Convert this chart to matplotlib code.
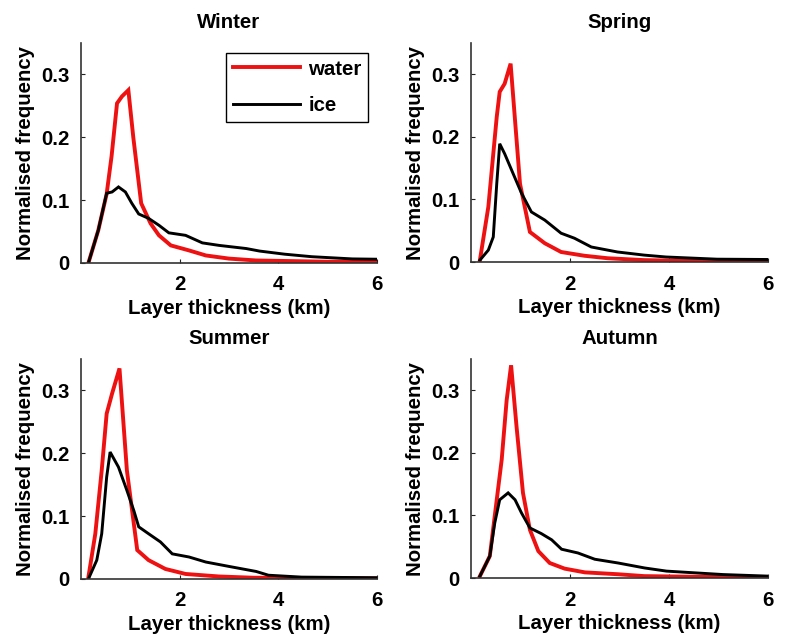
import matplotlib
matplotlib.use("Agg")
import matplotlib.pyplot as plt

# ---------------- data ----------------
seasons = ["Winter", "Spring", "Summer", "Autumn"]
series_labels = ["water", "ice"]

winter_water_x = [0.15, 0.35, 0.52, 0.62, 0.73, 0.83, 0.96, 1.06, 1.22, 1.41, 1.58, 1.82, 2.19, 2.53, 3.0, 3.55, 4.3, 5.0, 6.0]
winter_water_y = [0.0, 0.052, 0.110, 0.170, 0.254, 0.265, 0.275, 0.200, 0.095, 0.063, 0.044, 0.028, 0.020, 0.012, 0.007, 0.004, 0.003, 0.002, 0.002]
winter_ice_x = [0.15, 0.35, 0.52, 0.63, 0.76, 0.90, 1.03, 1.17, 1.37, 1.58, 1.78, 2.12, 2.46, 2.80, 3.35, 3.62, 4.13, 4.68, 5.5, 6.0]
winter_ice_y = [0.0, 0.052, 0.111, 0.113, 0.121, 0.113, 0.095, 0.078, 0.071, 0.060, 0.048, 0.044, 0.032, 0.028, 0.023, 0.019, 0.014, 0.010, 0.0065, 0.006]

spring_water_x = [0.18, 0.35, 0.52, 0.58, 0.68, 0.80, 0.99, 1.19, 1.49, 1.82, 2.29, 2.76, 3.5, 4.3, 5.0, 6.0]
spring_water_y = [0.003, 0.088, 0.232, 0.272, 0.285, 0.317, 0.125, 0.048, 0.030, 0.016, 0.010, 0.006, 0.003, 0.002, 0.0015, 0.001]
spring_ice_x = [0.18, 0.35, 0.45, 0.52, 0.58, 0.68, 0.82, 1.02, 1.22, 1.49, 1.82, 2.09, 2.43, 2.96, 3.5, 3.94, 4.97, 6.0]
spring_ice_y = [0.003, 0.019, 0.040, 0.125, 0.189, 0.173, 0.147, 0.110, 0.080, 0.067, 0.046, 0.038, 0.024, 0.016, 0.011, 0.008, 0.0045, 0.004]

summer_water_x = [0.15, 0.29, 0.42, 0.52, 0.63, 0.78, 0.93, 1.14, 1.37, 1.71, 2.12, 2.80, 3.5, 5.0, 6.0]
summer_water_y = [0.003, 0.072, 0.173, 0.263, 0.295, 0.335, 0.173, 0.046, 0.030, 0.016, 0.008, 0.004, 0.002, 0.0015, 0.001]
summer_ice_x = [0.15, 0.32, 0.42, 0.52, 0.59, 0.76, 0.93, 1.07, 1.17, 1.37, 1.61, 1.85, 2.19, 2.53, 3.0, 3.55, 3.8, 4.47, 6.0]
summer_ice_y = [0.0, 0.030, 0.072, 0.162, 0.202, 0.178, 0.141, 0.109, 0.083, 0.072, 0.059, 0.040, 0.035, 0.027, 0.020, 0.012, 0.006, 0.003, 0.002]

autumn_water_x = [0.18, 0.38, 0.52, 0.62, 0.72, 0.81, 0.92, 1.05, 1.19, 1.36, 1.59, 1.89, 2.30, 2.97, 3.5, 4.5, 6.0]
autumn_water_y = [0.003, 0.035, 0.125, 0.189, 0.284, 0.340, 0.242, 0.136, 0.077, 0.043, 0.024, 0.015, 0.009, 0.006, 0.003, 0.002, 0.001]
autumn_ice_x = [0.18, 0.38, 0.48, 0.58, 0.75, 0.89, 1.02, 1.19, 1.42, 1.63, 1.83, 2.16, 2.50, 2.97, 3.51, 3.95, 5.09, 6.0]
autumn_ice_y = [0.003, 0.035, 0.088, 0.125, 0.136, 0.125, 0.104, 0.080, 0.071, 0.061, 0.046, 0.040, 0.030, 0.024, 0.016, 0.011, 0.0055, 0.003]

x_ticks = [2, 4, 6]
y_ticks = [0, 0.1, 0.2, 0.3]
y_tick_labels = ["0", "0.1", "0.2", "0.3"]
x_label = "Layer thickness (km)"
y_label = "Normalised frequency"

data = {
    "Winter": (winter_water_x, winter_water_y, winter_ice_x, winter_ice_y),
    "Spring": (spring_water_x, spring_water_y, spring_ice_x, spring_ice_y),
    "Summer": (summer_water_x, summer_water_y, summer_ice_x, summer_ice_y),
    "Autumn": (autumn_water_x, autumn_water_y, autumn_ice_x, autumn_ice_y),
}

# ---------------- style ----------------
plt.rcParams["font.family"] = ["Liberation Sans", "DejaVu Sans"]
plt.rcParams["font.weight"] = "bold"
FS = 14.7

W, H = 787, 637
fig = plt.figure(figsize=(W / 100, H / 100), dpi=100)

# axes boxes in pixels: left, top, right, bottom
boxes = {
    "Winter": (81, 43, 377, 263),
    "Spring": (471, 43, 768, 262),
    "Summer": (81, 359, 377, 579),
    "Autumn": (471, 359, 768, 578),
}

for name in seasons:
    l, t, r, b = boxes[name]
    ax = fig.add_axes([l / W, 1 - b / H, (r - l) / W, (b - t) / H])
    wx, wy, ix, iy = data[name]
    ax.plot(wx, wy, color="#ee1111", lw=2.8, label=series_labels[0], solid_joinstyle="miter")
    ax.plot(ix, iy, color="black", lw=2.1, label=series_labels[1], solid_joinstyle="miter")
    ax.set_xlim(0, 6)
    ax.set_ylim(0, 0.35)
    ax.set_xticks(x_ticks)
    ax.set_xticklabels([str(v) for v in x_ticks])
    ax.set_yticks(y_ticks)
    ax.set_yticklabels(y_tick_labels)
    ax.tick_params(direction="in", length=3, width=0.8, labelsize=FS, colors="#222222")
    ax.tick_params(axis="x", pad=9)
    ax.tick_params(axis="y", pad=8)
    for lab in ax.get_xticklabels() + ax.get_yticklabels():
        lab.set_fontweight("bold")
        lab.set_color("black")
    ax.spines["top"].set_visible(False)
    ax.spines["right"].set_visible(False)
    for s in ("left", "bottom"):
        ax.spines[s].set_linewidth(1.2)
        ax.spines[s].set_color("#333333")
    ax.set_title(name, fontsize=FS, fontweight="bold", pad=11)
    ax.set_xlabel(x_label, fontsize=FS, fontweight="bold", labelpad=3.5)
    ax.set_ylabel(y_label, fontsize=FS, fontweight="bold", labelpad=4.5)
    if name == "Winter":
        leg = ax.legend(loc="upper right", bbox_to_anchor=(0.97, 0.955), borderaxespad=0,
                        fancybox=False, edgecolor="black", framealpha=1,
                        prop={"size": FS, "weight": "bold"}, handlelength=3.3,
                        labelspacing=0.85, handletextpad=0.4, borderpad=0.33)
        leg.get_frame().set_linewidth(1.0)

fig.savefig("out.png", dpi=100)
